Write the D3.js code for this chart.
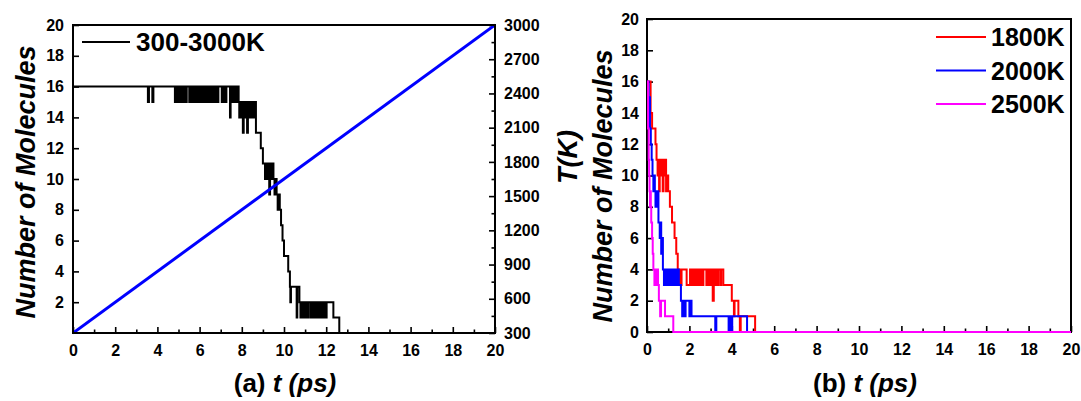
<!DOCTYPE html>
<html>
<head>
<meta charset="utf-8">
<script src="https://cdn.jsdelivr.net/npm/d3@7"></script>
<style>
  html, body { margin: 0; padding: 0; background: #fff; }
  svg { display: block; }
  text { font-family: "Liberation Sans", Arial, sans-serif; font-weight: bold; fill: #000; }
</style>
</head>
<body>
<svg id="chart" width="1081" height="401"></svg>
<script>
// ---- data -------------------------------------------------------------
// Panel (a): molecule count during a linear heat ramp 300 -> 3000 K, [t (ps), count]
const rampCount = [
  [0,16],[3.55,15],[3.6,16],[3.76,15],[3.81,16],
  [4.83,15],[4.87,16],[4.9,15],[4.94,16],[4.97,15],[5.02,16],
  [5.1,15],[5.14,16],[5.18,15],[5.22,16],[5.26,15],[5.3,16],[5.34,15],[5.39,16],
  [5.51,15],[5.55,16],[5.59,15],[5.63,16],[5.67,15],[5.71,16],[5.75,15],[5.8,16],
  [5.84,15],[5.88,16],[5.92,15],[5.96,16],[6.0,15],[6.04,16],[6.08,15],[6.12,16],
  [6.17,15],[6.21,16],[6.25,15],[6.3,16],[6.34,15],[6.36,16],
  [6.41,15],[6.45,16],[6.5,15],[6.54,16],[6.59,15],[6.65,16],
  [6.73,15],[6.78,16],[6.83,15],[6.89,16],
  [7.05,15],[7.1,16],[7.15,15],[7.2,16],[7.23,15],[7.27,16],
  [7.44,14],[7.47,16],
  [7.52,15],[7.56,16],[7.6,15],[7.65,16],[7.7,15],[7.75,16],[7.8,15],[7.83,16],[7.85,15],
  [7.88,14],[7.92,15],[7.96,14],[8.0,15],[8.05,13],[8.09,15],[8.13,14],[8.18,15],
  [8.25,13],[8.29,15],[8.34,14],[8.39,15],[8.44,14],[8.49,15],[8.54,14],[8.6,15],
  [8.67,13],[8.9,12],[9.0,11],[9.1,10],[9.14,11],[9.2,10],[9.25,11],[9.3,9],
  [9.34,11],[9.4,10],[9.45,11],[9.5,10],[9.55,9],[9.6,10],[9.65,9],[9.7,8],
  [9.75,9],[9.8,8],[9.86,7],[9.93,6],[10.0,5],[10.2,4],[10.28,3],[10.3,2],
  [10.33,3],[10.6,1],[10.63,3],[10.73,2],
  [10.78,1],[10.82,2],[10.87,1],[10.92,2],[10.98,1],[11.03,2],[11.1,1],[11.15,2],
  [11.25,1],[11.3,2],[11.35,1],[11.4,2],[11.45,1],[11.5,2],[11.58,1],[11.62,2],
  [11.68,1],[11.73,2],[11.78,1],[11.82,2],[11.88,1],[11.93,2],[11.97,1],[12.02,2],
  [12.34,1],[12.62,0],[20,0]
];
// Temperature ramp, [t (ps), T (K)]
const rampTemperature = [[0,300],[20,3000]];

// Panel (b): isothermal runs, [t (ps), count]
const count1800K = [
  [0,16],[0.17,14],[0.24,13],[0.4,12],[0.45,11],[0.5,10],[0.53,11],[0.57,9],
  [0.6,11],[0.65,10],[0.7,11],[0.74,9],[0.78,11],[0.82,10],[0.86,11],[0.9,9],
  [0.95,10],[1.0,9],[1.08,8],[1.18,7],[1.3,6],[1.38,5],[1.45,4],[1.5,3],[1.53,4],
  [1.6,3],[1.63,4],[1.87,3],[2.03,4],[2.08,3],[2.13,4],[2.2,3],[2.25,4],[2.3,3],
  [2.35,4],[2.42,3],[2.46,4],[2.52,3],[2.56,4],[2.62,3],[2.66,4],[2.8,3],[2.85,4],
  [2.9,3],[2.95,4],[3.0,3],[3.05,4],[3.1,2],[3.15,4],[3.2,3],[3.25,4],[3.3,3],
  [3.35,4],[3.45,3],[3.5,4],[3.6,3],[4.0,2],[4.1,1],[4.13,2],[4.31,1],[4.38,0],
  [4.42,1],[5.1,0],[20,0]
];
const count2000K = [
  [0,16],[0.08,15],[0.14,13],[0.18,12],[0.22,11],[0.26,10],[0.3,9],[0.33,10],
  [0.37,9],[0.4,8],[0.43,9],[0.47,8],[0.5,9],[0.54,7],[0.6,6],[0.64,7],[0.67,5],
  [0.72,6],[0.75,4],[0.8,3],[0.84,4],[0.9,3],[0.95,4],[1.0,3],[1.05,4],[1.12,3],
  [1.18,4],[1.25,3],[1.3,4],[1.38,3],[1.42,4],[1.5,3],[1.6,2],[1.66,1],[1.7,2],
  [1.78,1],[1.82,2],[2.0,1],[2.04,2],[2.1,1],[3.22,0],[3.27,1],[3.85,0],[3.9,1],
  [3.98,0],[4.02,1],[4.72,0],[20,0]
];
const count2500K = [
  [0,16],[0.05,13],[0.08,11],[0.1,10],[0.12,9],[0.14,8],[0.16,9],[0.18,8],
  [0.2,7],[0.24,6],[0.27,5],[0.3,4],[0.35,3],[0.38,4],[0.44,3],[0.48,4],[0.52,3],
  [0.56,2],[0.62,1],[0.66,2],[0.85,1],[1.24,0],[20,0]
];

const timeTicks = [0,2,4,6,8,10,12,14,16,18,20];
const countTicksA = [2,4,6,8,10,12,14,16,18,20];
const countTicksB = [0,2,4,6,8,10,12,14,16,18,20];
const temperatureTicks = [300,600,900,1200,1500,1800,2100,2400,2700,3000];

const seriesB = [
  { name: "1800K", color: "#ff0000", values: count1800K },
  { name: "2000K", color: "#0000ff", values: count2000K },
  { name: "2500K", color: "#ff00ff", values: count2500K }
];

// ---- layout -----------------------------------------------------------
const svg = d3.select("#chart");
const A = { left: 73, right: 495, top: 25, bottom: 333 };
const B = { left: 647, right: 1071, top: 19, bottom: 332 };

const xA = d3.scaleLinear().domain([0, 20]).range([A.left, A.right]);
const yA = d3.scaleLinear().domain([0, 20]).range([A.bottom, A.top]);
const tA = d3.scaleLinear().domain([300, 3000]).range([A.bottom, A.top]);
const xB = d3.scaleLinear().domain([0, 20]).range([B.left, B.right]);
const yB = d3.scaleLinear().domain([0, 20]).range([B.bottom, B.top]);

const odd = d3.range(1, 20, 2);
const tempMinor = d3.range(450, 3000, 300);

function styleAxis(g) {
  g.select(".domain").remove();
  g.selectAll(".tick line").attr("stroke", "#000").attr("stroke-width", 1.6);
  g.selectAll(".tick text").style("font-size", "16px").style("font-weight", "bold")
    .style("font-family", "'Liberation Sans', Arial, sans-serif").attr("fill", "#000");
}

// ---- panel (a) --------------------------------------------------------
svg.append("g").attr("transform", `translate(0,${A.bottom})`)
  .call(d3.axisBottom(xA).tickValues(timeTicks).tickSize(-6).tickPadding(12).tickFormat(d3.format("d")))
  .call(styleAxis);
svg.append("g").attr("transform", `translate(0,${A.bottom})`)
  .call(d3.axisBottom(xA).tickValues(odd).tickSize(-3.5).tickFormat(""))
  .call(styleAxis);
svg.append("g").attr("transform", `translate(${A.left},0)`)
  .call(d3.axisLeft(yA).tickValues(countTicksA).tickSize(-6).tickPadding(9).tickFormat(d3.format("d")))
  .call(styleAxis);
svg.append("g").attr("transform", `translate(${A.right},0)`)
  .call(d3.axisRight(tA).tickValues(temperatureTicks).tickSize(-6).tickPadding(9).tickFormat(d3.format("d")))
  .call(styleAxis);
svg.append("g").attr("transform", `translate(${A.right},0)`)
  .call(d3.axisRight(tA).tickValues(tempMinor).tickSize(-3.5).tickFormat(""))
  .call(styleAxis);

svg.append("defs").append("clipPath").attr("id", "clipA")
  .append("rect").attr("x", A.left).attr("y", A.top - 2)
  .attr("width", A.right - A.left).attr("height", A.bottom - A.top + 4);

const stepA = d3.line().x(d => xA(d[0])).y(d => yA(d[1])).curve(d3.curveStepAfter);
const plotA = svg.append("g").attr("clip-path", "url(#clipA)");
plotA.append("path").datum(rampCount).attr("d", stepA)
  .attr("fill", "none").attr("stroke", "#000").attr("stroke-width", 2);
plotA.append("path").datum(rampTemperature)
  .attr("d", d3.line().x(d => xA(d[0])).y(d => tA(d[1])))
  .attr("fill", "none").attr("stroke", "#0000ff").attr("stroke-width", 3);

svg.append("rect").attr("x", A.left).attr("y", A.top)
  .attr("width", A.right - A.left).attr("height", A.bottom - A.top)
  .attr("fill", "none").attr("stroke", "#000").attr("stroke-width", 2);

// legend (a)
svg.append("line").attr("x1", 82).attr("x2", 130).attr("y1", 42).attr("y2", 42)
  .attr("stroke", "#000").attr("stroke-width", 2);
svg.append("text").attr("x", 136).attr("y", 51).style("font-size", "26px").text("300-3000K");

// axis titles (a)
svg.append("text").attr("transform", "translate(35,182) rotate(-90)")
  .attr("text-anchor", "middle").style("font-size", "27px").style("font-style", "italic")
  .text("Number of Molecules");
svg.append("text").attr("transform", "translate(577,157) rotate(-90)")
  .attr("text-anchor", "middle").style("font-size", "27px").style("font-style", "italic")
  .text("T(K)");
const capA = svg.append("text").attr("x", 285).attr("y", 392)
  .attr("text-anchor", "middle").style("font-size", "26px");
capA.append("tspan").text("(a) ");
capA.append("tspan").style("font-style", "italic").text("t (ps)");

// ---- panel (b) --------------------------------------------------------
svg.append("g").attr("transform", `translate(0,${B.bottom})`)
  .call(d3.axisBottom(xB).tickValues(timeTicks).tickSize(-6).tickPadding(12).tickFormat(d3.format("d")))
  .call(styleAxis);
svg.append("g").attr("transform", `translate(0,${B.bottom})`)
  .call(d3.axisBottom(xB).tickValues(odd).tickSize(-3.5).tickFormat(""))
  .call(styleAxis);
svg.append("g").attr("transform", `translate(${B.left},0)`)
  .call(d3.axisLeft(yB).tickValues(countTicksB).tickSize(-6).tickPadding(8).tickFormat(d3.format("d")))
  .call(styleAxis);

svg.append("rect").attr("x", B.left).attr("y", B.top)
  .attr("width", B.right - B.left).attr("height", B.bottom - B.top)
  .attr("fill", "none").attr("stroke", "#000").attr("stroke-width", 2);

svg.select("defs").append("clipPath").attr("id", "clipB")
  .append("rect").attr("x", B.left).attr("y", B.top - 2)
  .attr("width", B.right - B.left).attr("height", B.bottom - B.top + 4);

const stepB = d3.line().x(d => xB(d[0])).y(d => yB(d[1])).curve(d3.curveStepAfter);
const plotB = svg.append("g").attr("clip-path", "url(#clipB)");
plotB.selectAll("path").data(seriesB).join("path")
  .attr("d", d => stepB(d.values))
  .attr("fill", "none").attr("stroke", d => d.color).attr("stroke-width", 2);

// legend (b)
const legB = svg.append("g");
seriesB.forEach((s, i) => {
  const y = 37 + i * 33.5;
  legB.append("line").attr("x1", 936).attr("x2", 986).attr("y1", y).attr("y2", y)
    .attr("stroke", s.color).attr("stroke-width", 2);
  legB.append("text").attr("x", 991).attr("y", y + 9).style("font-size", "25px").text(s.name);
});

svg.append("text").attr("transform", "translate(612,186) rotate(-90)")
  .attr("text-anchor", "middle").style("font-size", "27px").style("font-style", "italic")
  .text("Number of Molecules");
const capB = svg.append("text").attr("x", 865).attr("y", 392)
  .attr("text-anchor", "middle").style("font-size", "26px");
capB.append("tspan").text("(b) ");
capB.append("tspan").style("font-style", "italic").text("t (ps)");
</script>
</body>
</html>
